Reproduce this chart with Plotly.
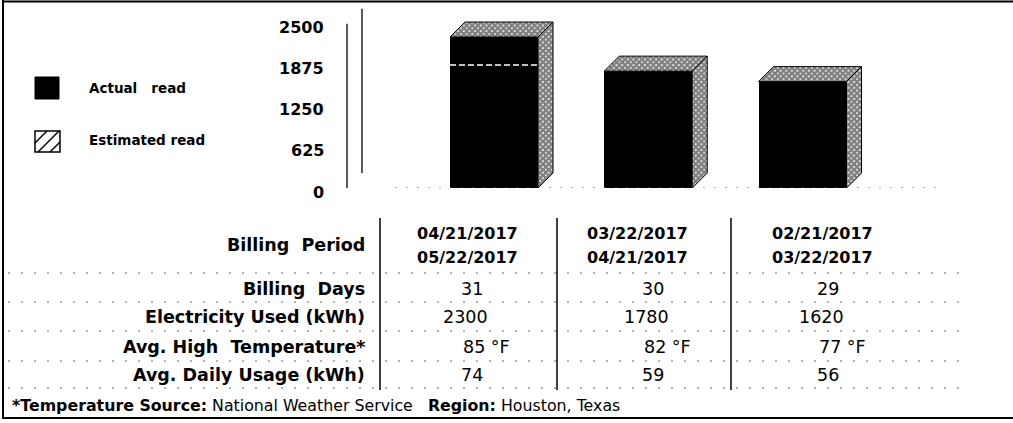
import plotly.graph_objects as go

# ---------------- data ----------------
period_start = ["04/21/2017", "03/22/2017", "02/21/2017"]
period_end = ["05/22/2017", "04/21/2017", "03/22/2017"]
billing_days = [31, 30, 29]
electricity_kwh = [2300, 1780, 1620]
avg_high_temp_f = [85, 82, 77]
avg_daily_kwh = [74, 59, 56]
y_ticks = [0, 625, 1250, 1875, 2500]
row_labels = ["Billing\u00a0 Period", "Billing\u00a0 Days", "Electricity Used (kWh)",
              "Avg. High\u00a0 Temperature*", "Avg. Daily Usage (kWh)"]
legend_labels = ["Actual\u00a0\u00a0 read", "Estimated read"]
footnote = ("<b>*Temperature Source:</b> National Weather Service\u00a0\u00a0 "
            "<b>Region:</b> Houston, Texas")

# ---------------- layout constants (page pixels) ----------------
W, H = 1030, 423         # figure slightly wider than the window: right edge is cut off
FONT = "DejaVu Sans"
BASE_PX = 188            # pixel row of the 0 kWh baseline
PX_PER_KWH = 151 / 2300  # vertical scale
BAR0_PX = 494            # pixel column of first bar centre
BAR_STEP_PX = 154.25     # distance between bars
BAR_W_PX = 88
DEPTH_PX = 15            # 3-D depth offset

x_range = [(0 - BAR0_PX) / BAR_STEP_PX, (W - BAR0_PX) / BAR_STEP_PX]
y_range = [0, BASE_PX / PX_PER_KWH]
y_domain = [1 - BASE_PX / H, 1]
bw = BAR_W_PX / BAR_STEP_PX
dx = DEPTH_PX / BAR_STEP_PX
dy = DEPTH_PX / PX_PER_KWH
pos = list(range(len(electricity_kwh)))


def paper_x(px):
    return px / W


fig = go.Figure()

# front faces
fig.add_trace(go.Bar(x=pos, y=electricity_kwh, width=bw,
                     marker=dict(color="black", line=dict(width=0)),
                     showlegend=False, hoverinfo="skip"))

pattern = dict(shape="x", size=4, solidity=0.85, fgcolor="black", bgcolor="white")
for i, v in zip(pos, electricity_kwh):
    x0, x1 = i - bw / 2, i + bw / 2
    # top face
    fig.add_trace(go.Scatter(x=[x0, x0 + dx, x1 + dx, x1, x0],
                             y=[v, v + dy, v + dy, v, v],
                             mode="lines", fill="toself", fillpattern=pattern,
                             line=dict(color="black", width=1),
                             showlegend=False, hoverinfo="skip"))
    # side face
    fig.add_trace(go.Scatter(x=[x1, x1 + dx, x1 + dx, x1, x1],
                             y=[0, dy, v + dy, v, 0],
                             mode="lines", fill="toself", fillpattern=pattern,
                             line=dict(color="black", width=1),
                             showlegend=False, hoverinfo="skip"))

# dummy trace for the pixel overlay subplot
fig.add_trace(go.Scatter(x=[None], y=[None], xaxis="x2", yaxis="y2",
                         showlegend=False, hoverinfo="skip"))

shapes = []
ann = []


def px_line(x0, y0, x1, y1, color="black", width=1, dash=None):
    line = dict(color=color, width=width)
    if dash:
        line["dash"] = dash
    shapes.append(dict(type="line", xref="x2", yref="y2", x0=x0, y0=y0, x1=x1, y1=y1,
                       line=line, layer="above"))


# axis wall lines
shapes.append(dict(type="line", xref="paper", yref="y", x0=paper_x(347), x1=paper_x(347),
                   y0=0, y1=y_ticks[-1], line=dict(color="black", width=1.3)))
shapes.append(dict(type="line", xref="paper", yref="y", x0=paper_x(347 + DEPTH_PX),
                   x1=paper_x(347 + DEPTH_PX), y0=dy, y1=y_ticks[-1] + dy,
                   line=dict(color="black", width=1.3)))
# dotted baseline
shapes.append(dict(type="line", xref="paper", yref="y", x0=paper_x(395), x1=paper_x(940),
                   y0=0, y1=0, line=dict(color="#666", width=1, dash="2px,9px")))
# white grid dash across bars taller than the 1875 tick
for i, v in zip(pos, electricity_kwh):
    if v > y_ticks[3] + 100:
        shapes.append(dict(type="line", xref="x", yref="y", x0=i - bw / 2, x1=i + bw / 2,
                           y0=y_ticks[3], y1=y_ticks[3],
                           line=dict(color="white", width=1.5, dash="6px,3px"),
                           layer="above"))

# y tick labels
for t in y_ticks:
    ann.append(dict(xref="paper", yref="y", x=paper_x(326), y=t, yshift=-4,
                    text=f"<b>{t}</b>", showarrow=False, xanchor="right", yanchor="middle",
                    font=dict(family=FONT, size=16, color="black")))

# legend
shapes.append(dict(type="rect", xref="x2", yref="y2", x0=35, y0=77, x1=59, y1=99,
                   fillcolor="black", line=dict(color="black", width=1), layer="above"))
shapes.append(dict(type="rect", xref="x2", yref="y2", x0=35, y0=131, x1=60, y1=152,
                   fillcolor="white", line=dict(color="black", width=1.5), layer="above"))
bx0, by0, bx1, by1 = 35, 131, 60, 152
for c in (178, 190, 202):
    pts = []
    for x in (bx0, bx1):
        y = c - x
        if by0 <= y <= by1:
            pts.append((x, y))
    for y in (by0, by1):
        x = c - y
        if bx0 <= x <= bx1:
            pts.append((x, y))
    if len(pts) >= 2:
        (a, b), (e, f) = pts[0], pts[1]
        px_line(a, b, e, f, width=1.5)
for label, yy in zip(legend_labels, (88, 140)):
    ann.append(dict(xref="x2", yref="y2", x=87, y=yy, text=f"<b>{label}</b>",
                    showarrow=False, xanchor="left", yanchor="middle",
                    font=dict(family=FONT, size=13.5, color="black")))

# ---------------- table ----------------
row_y = [245, 289, 317, 347, 375]
date_y = (233, 257)
date_x = [467, 637, 822]
val_x = [472, 653, 828]
sep_x = [380, 557, 731]
hline_y = [273, 302, 331, 361, 388]

for lab, yy in zip(row_labels, row_y):
    ann.append(dict(xref="x2", yref="y2", x=367, y=yy, text=f"<b>{lab}</b>",
                    showarrow=False, xanchor="right", yanchor="middle",
                    font=dict(family=FONT, size=17.5, color="black")))
for j in pos:
    for txt, yy in zip((period_start[j], period_end[j]), date_y):
        ann.append(dict(xref="x2", yref="y2", x=date_x[j], y=yy, text=f"<b>{txt}</b>",
                        showarrow=False, xanchor="center", yanchor="middle",
                        font=dict(family=FONT, size=16, color="black")))
    rows = [(f"{billing_days[j]}", 0), (f"{electricity_kwh[j]}", -7),
            (f"{avg_high_temp_f[j]} \u00b0F", 14), (f"{avg_daily_kwh[j]}", 0)]
    for (txt, off), yy in zip(rows, row_y[1:]):
        ann.append(dict(xref="x2", yref="y2", x=val_x[j] + off, y=yy, text=txt,
                        showarrow=False, xanchor="center", yanchor="middle",
                        font=dict(family=FONT, size=17.5, color="black")))

for xx in sep_x:
    px_line(xx, 218, xx, 390, width=1.5)
for yy in hline_y:
    px_line(8, yy, 965, yy, color="#666", width=1, dash="2px,11px")

ann.append(dict(xref="x2", yref="y2", x=10, y=405, text=footnote, showarrow=False,
                xanchor="left", yanchor="middle",
                font=dict(family=FONT, size=15.8, color="black")))

# outer border (top, left, bottom; right side is cut off in the reference)
px_line(2, 1.5, W, 1.5, width=2)
px_line(3, 0, 3, 419, width=2)
px_line(2, 418, W, 418, width=2)

fig.update_layout(
    width=W, height=H, autosize=False,
    margin=dict(l=0, r=0, t=0, b=0, pad=0),
    paper_bgcolor="white", plot_bgcolor="rgba(0,0,0,0)",
    showlegend=False, bargap=0,
    xaxis=dict(domain=[0, 1], range=x_range, visible=False, fixedrange=True),
    yaxis=dict(domain=y_domain, range=y_range, visible=False, fixedrange=True),
    xaxis2=dict(domain=[0, 1], range=[0, W], anchor="y2", visible=False, fixedrange=True),
    yaxis2=dict(domain=[0, 1], range=[H, 0], anchor="x2", visible=False, fixedrange=True),
    shapes=shapes, annotations=ann,
)

fig.write_html("out.html", config={"displayModeBar": False},
               post_script="document.body.style.margin='0px';"
                           "document.body.style.overflow='hidden';")
